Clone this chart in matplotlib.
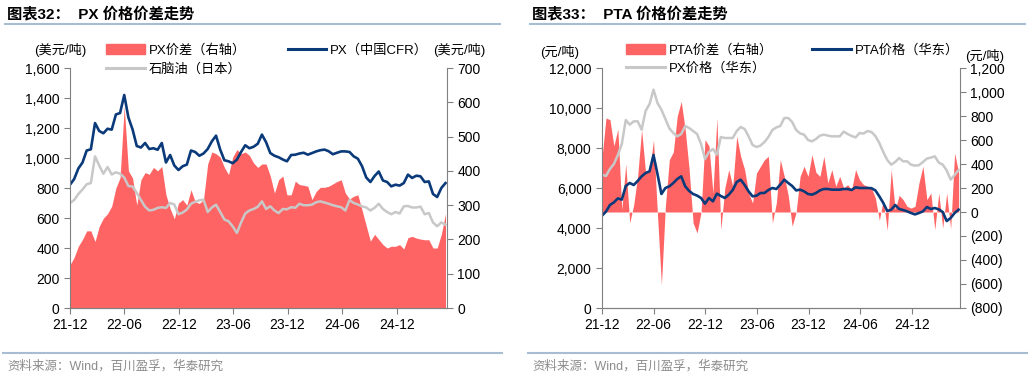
import matplotlib
matplotlib.use('Agg')
import matplotlib.pyplot as plt
import matplotlib.dates as mdates
from matplotlib.patches import Patch
from matplotlib.lines import Line2D
from matplotlib.ticker import FuncFormatter, MultipleLocator
import pandas as pd

plt.rcParams['font.family'] = ['Liberation Sans', 'Noto Sans CJK SC', 'DejaVu Sans']
plt.rcParams['axes.unicode_minus'] = False

# ---------- data (biweekly) ----------
dates = pd.date_range('2021-12-01', periods=91, freq='14D')
x_end = pd.Timestamp('2021-12-01') + pd.Timedelta(days=1265)

# Figure 32: PX
px_cfr = [822, 860, 930, 970, 1050, 1058, 1233, 1180, 1165, 1195,
          1189, 1290, 1300, 1420, 1270, 1190, 1080, 1070, 1100, 1060,
          1065, 1055, 1100, 970, 1020, 950, 920, 945, 956, 1050,
          1040, 1015, 1030, 1060, 1111, 1149, 1056, 985, 978, 965,
          989, 1040, 1085, 1065, 1075, 1095, 1156, 1105, 1033, 1015,
          1005, 990, 978, 1020, 1022, 1030, 1035, 1022, 1033, 1044,
          1052, 1056, 1045, 1025, 1035, 1044, 1044, 1040, 1011, 995,
          945, 870, 840, 880, 910, 850, 840, 811, 822, 816,
          833, 889, 867, 882, 878, 840, 844, 760, 740, 800, 833]
naphtha = [700, 720, 760, 790, 825, 833, 1011, 950, 895, 940,
           890, 905, 895, 870, 813, 810, 767, 720, 675, 650,
           655, 667, 672, 667, 700, 690, 625, 636, 656, 695,
           708, 718, 722, 640, 670, 689, 640, 590, 578, 544,
           500, 570, 630, 650, 660, 675, 711, 660, 678, 650,
           633, 660, 658, 672, 668, 695, 685, 685, 689, 705,
           711, 703, 695, 685, 678, 672, 650, 720, 700, 690,
           678, 670, 650, 668, 695, 660, 640, 625, 640, 630,
           678, 680, 670, 670, 676, 625, 633, 570, 545, 570, 556]
px_spread = [126, 148, 180, 200, 225, 225, 194, 238, 262, 275,
             297, 350, 380, 588, 400, 379, 300, 374, 395, 390,
             410, 400, 413, 330, 290, 260, 306, 316, 300, 345,
             310, 305, 316, 420, 455, 450, 440, 410, 389, 440,
             462, 450, 455, 445, 423, 410, 420, 420, 385, 335,
             374, 385, 330, 330, 370, 360, 358, 355, 316, 340,
             352, 352, 355, 362, 369, 374, 335, 318, 326, 330,
             285, 240, 195, 215, 200, 185, 175, 180, 180, 185,
             172, 205, 209, 204, 201, 199, 199, 175, 175, 215, 275]

# Figure 33: PTA
pta_price = [4617, 4820, 5150, 5280, 5480, 5417, 6100, 6250, 6150, 6350,
             6583, 6750, 6833, 7650, 6700, 5700, 6000, 6083, 6250, 6450,
             6583, 6083, 5850, 5700, 5620, 5500, 5217, 5500, 5333, 5720,
             5600, 5500, 5667, 5900, 6300, 6417, 6150, 5833, 5583, 5617,
             5750, 5750, 5900, 6000, 5950, 6167, 6417, 6250, 6100, 5880,
             5917, 5833, 5700, 5667, 5750, 5880, 5950, 5950, 5917, 5917,
             5917, 5950, 5950, 5900, 6033, 6000, 6000, 6000, 5990, 5880,
             5583, 5250, 4850, 4917, 5150, 4950, 4900, 4833, 4750, 4680,
             4750, 4833, 5050, 4950, 5000, 4930, 4800, 4350, 4500, 4750, 4917]
px_east = [6667, 6600, 6950, 7200, 7650, 8200, 9400, 9167, 9333, 9333,
           8917, 9850, 10200, 10917, 10250, 9917, 9450, 8980, 8750, 8583,
           8700, 9100, 9000, 8850, 8700, 8200, 7450, 7800, 7950, 7667,
           8550, 8500, 8500, 8500, 8850, 9050, 8950, 8583, 8150, 8050,
           8120, 8300, 8550, 8900, 9030, 9100, 9500, 9500, 9300, 8900,
           8730, 8667, 8400, 8333, 8450, 8620, 8667, 8620, 8583, 8583,
           8583, 8820, 8700, 8600, 8530, 8750, 8720, 8850, 8800, 8600,
           8250, 7800, 7400, 7167, 7300, 7500, 7333, 7333, 7167, 7120,
           7140, 7300, 7470, 7520, 7583, 7270, 7167, 6880, 6417, 6650, 6900]
pta_spread = [450, 783, 770, 550, 690, 20, 400, -90, 60, 300,
              686, 330, 340, 600, -20, -606, 50, 436, 500, 800,
              922, 686, 353, -92, -175, 0, 603, 550, 158, 783,
              -147, 200, 353, 214, 631, 464, 353, 158, 75, 325,
              381, 436, 464, -92, 75, 436, 297, 139, -119, 0,
              297, 381, 297, 478, 330, 297, 464, 242, 353, 214,
              297, 200, 228, 186, 353, 269, 228, 214, 200, 117,
              -69, 103, -153, 353, 19, 139, 103, 47, 33, 47,
              242, 381, 103, 158, -147, 158, -133, 158, -140, 492, 330]

RED = '#ff6464'
BLUE = '#0b3a7a'
GRAY = '#c8c8c8'
SPINE = '#808080'
W, H = 1030, 378


def fig_rect(x0, y0, x1, y1):
    return [x0 / W, 1 - y1 / H, (x1 - x0) / W, (y1 - y0) / H]


def style_axes(ax, ax2):
    for a in (ax, ax2):
        for s in a.spines.values():
            s.set_color(SPINE)
        a.spines['top'].set_visible(False)
        a.tick_params(colors='black', labelsize=10, length=4, color=SPINE, width=0.8)
    ax2.spines['left'].set_visible(False)
    ax.spines['right'].set_visible(False)
    ax.xaxis.set_major_locator(mdates.MonthLocator(bymonth=[6, 12]))
    ax.xaxis.set_major_formatter(mdates.DateFormatter('%y-%m'))
    ax.set_xlim(dates[0], x_end)
    ax2.set_zorder(ax.get_zorder() - 1)
    ax.patch.set_visible(False)


fig = plt.figure(figsize=(W / 100, H / 100), dpi=100)

# ============ Figure 32 ============
ax = fig.add_axes(fig_rect(70, 68, 447, 308))
ax2 = ax.twinx()
ax2.fill_between(dates, 0, px_spread, color=RED, lw=0)
ax2.set_ylim(0, 700)
ax2.yaxis.set_major_locator(MultipleLocator(100))
ax.plot(dates, naphtha, color=GRAY, lw=1.8)
ax.plot(dates, px_cfr, color=BLUE, lw=1.9)
ax.set_ylim(0, 1600)
ax.yaxis.set_major_locator(MultipleLocator(200))
ax.yaxis.set_major_formatter(FuncFormatter(lambda v, p: f'{v:,.0f}'))
style_axes(ax, ax2)
handles = [Patch(color=RED), Line2D([], [], color=GRAY, lw=2.2), Line2D([], [], color=BLUE, lw=2.2)]
ax.legend(handles, ['PX价差（右轴）', '石脑油（日本）', 'PX（中国CFR）'], ncol=2, frameon=False,
          loc='upper left', bbox_to_anchor=(0.065, 1.15), fontsize=9.5, handlelength=2.9,
          columnspacing=3.2, labelspacing=0.45, handletextpad=0.3)
fig.text(60 / W, 1 - 50 / H, '(美元/吨)', ha='center', va='center', fontsize=9.5)
fig.text(459 / W, 1 - 50 / H, '(美元/吨)', ha='center', va='center', fontsize=9.5)

# ============ Figure 33 ============
bx = fig.add_axes(fig_rect(602, 68, 960, 308))
bx2 = bx.twinx()
bx2.fill_between(dates, 0, pta_spread, color=RED, lw=0)
bx2.set_ylim(-800, 1200)
bx2.yaxis.set_major_locator(MultipleLocator(200))
bx2.yaxis.set_major_formatter(FuncFormatter(lambda v, p: f'({abs(v):,.0f})' if v < 0 else f'{v:,.0f}'))
bx.plot(dates, px_east, color=GRAY, lw=1.8)
bx.plot(dates, pta_price, color=BLUE, lw=1.9)
bx.set_ylim(0, 12000)
bx.yaxis.set_major_locator(MultipleLocator(2000))
bx.yaxis.set_major_formatter(FuncFormatter(lambda v, p: f'{v:,.0f}'))
style_axes(bx, bx2)
bx.legend(handles, ['PTA价差（右轴）', 'PX价格（华东）', 'PTA价格（华东）'], ncol=2, frameon=False,
          loc='upper left', bbox_to_anchor=(0.035, 1.15), fontsize=9.5, handlelength=2.9,
          columnspacing=3.0, labelspacing=0.45, handletextpad=0.3)
fig.text(560 / W, 1 - 52 / H, '(元/吨)', ha='center', va='center', fontsize=9.5)
fig.text(985 / W, 1 - 56 / H, '(元/吨)', ha='center', va='center', fontsize=9.5)

# ---------- titles, rules, sources ----------
for x0, x1, title in [(5, 500, '图表32：  PX 价格价差走势'), (530, 1025, '图表33：  PTA 价格价差走势')]:
    fig.text((x0 + 2) / W, 1 - 14 / H, title, ha='left', va='center', fontsize=11, fontweight='bold')
    fig.add_artist(Line2D([x0 / W, x1 / W], [1 - 24 / H] * 2, color='#a9bdd2', lw=1.5))
    fig.add_artist(Line2D([(x0 - 2) / W, (x1 + 2) / W], [1 - 353 / H] * 2, color='#a9bdd2', lw=1.5))
    fig.text((x0 + 2) / W, 1 - 366 / H, '资料来源：Wind，百川盈孚，华泰研究', ha='left', va='center',
             fontsize=9, color='#8c8c8c')

plt.savefig('out.png', dpi=100, facecolor='white')
plt.close()
